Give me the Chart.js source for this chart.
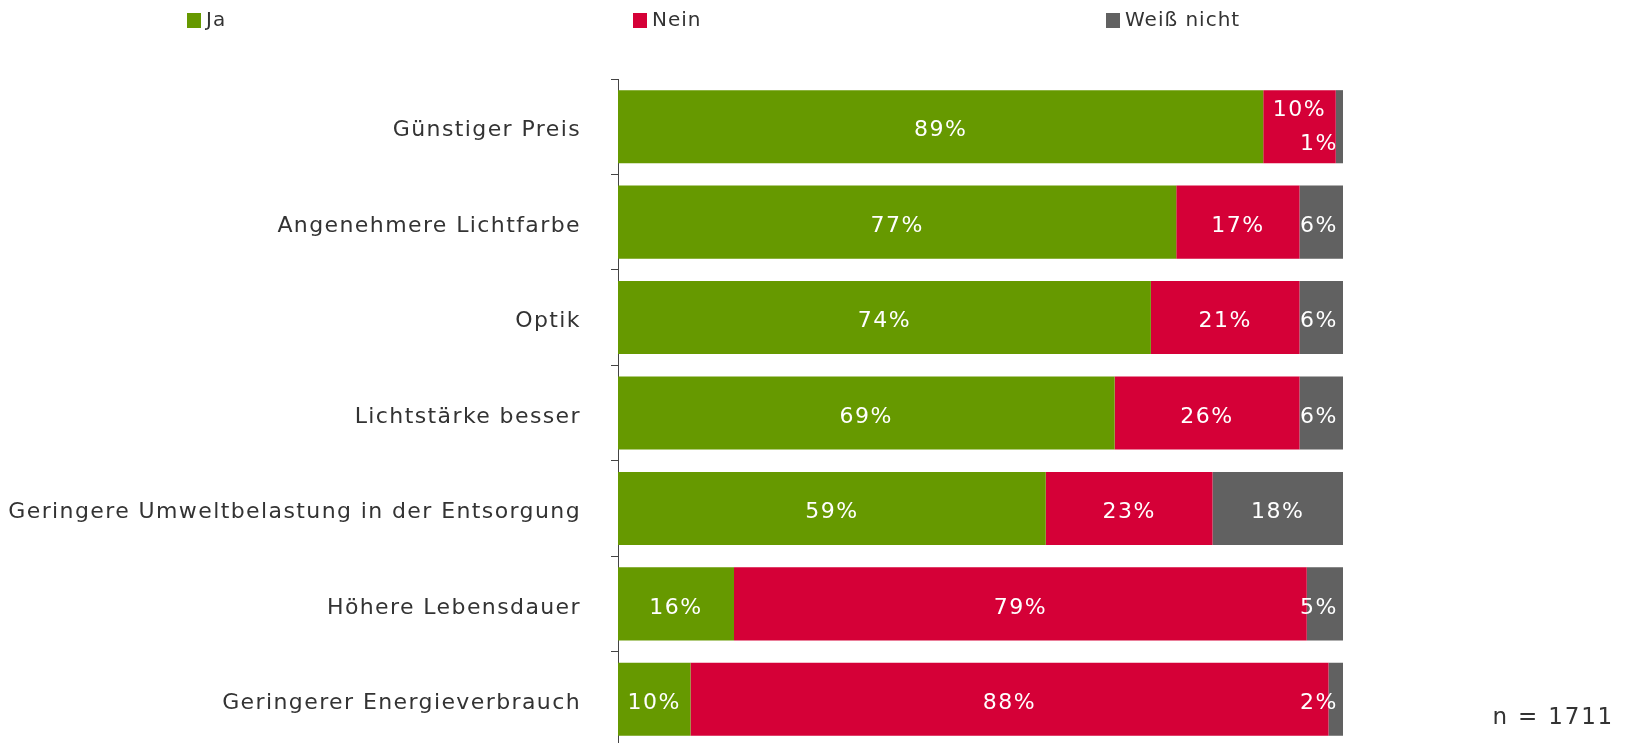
<!DOCTYPE html>
<html lang="de">
<head>
<meta charset="utf-8">
<title>Gründe</title>
<script src="https://cdn.jsdelivr.net/npm/chart.js@4.4.1/dist/chart.umd.min.js"></script>
<style>
  html, body { margin: 0; padding: 0; background: #fff; overflow: hidden; }
  body { width: 1628px; height: 743px; position: relative; font-family: "DejaVu Sans", Verdana, sans-serif; color: #333; }
  #chart { position: absolute; left: 0; top: 0; }
  .leg { position: absolute; top: 8px; font-size: 20px; letter-spacing: 1px; line-height: 22px; }
  .leg i { display: inline-block; width: 14px; height: 15px; margin-right: 5px; vertical-align: -2px; }
  #n { position: absolute; right: 14px; top: 703px; font-size: 23px; letter-spacing: 1.8px; }
</style>
</head>
<body>
<canvas id="chart" width="1628" height="747"></canvas>
<div class="leg" style="left:187px"><i style="background:#669900"></i>Ja</div>
<div class="leg" style="left:633px"><i style="background:#d50037"></i>Nein</div>
<div class="leg" style="left:1106px"><i style="background:#616161"></i>Weiß nicht</div>
<div id="n">n = 1711</div>
<script>
// ---- data (percent of answers) ----
const categories = [
  "Günstiger Preis",
  "Angenehmere Lichtfarbe",
  "Optik",
  "Lichtstärke besser",
  "Geringere Umweltbelastung in der Entsorgung",
  "Höhere Lebensdauer",
  "Geringerer Energieverbrauch",
];
const ja         = [89, 77, 73.5, 68.5, 59, 16, 10];
const nein       = [10, 17, 20.5, 25.5, 23, 79, 88];
const weissNicht = [1, 6, 6, 6, 18, 5, 2];

const colors = { ja: "#669900", nein: "#d50037", wn: "#616161" };

// manual nudges for crowded labels (dataset index, row) -> vertical shift in px
const labelNudge = { "1,0": -20, "2,0": 14 };

// Value labels inside the bar segments, kept inside the plot area.
const barLabels = {
  id: "barLabels",
  afterDatasetsDraw(chart) {
    const ctx = chart.ctx;
    const right = chart.chartArea.right;
    ctx.save();
    ctx.font = "22px 'DejaVu Sans'";
    ctx.letterSpacing = "1.5px";
    ctx.fillStyle = "#fff";
    ctx.textBaseline = "middle";
    ctx.textAlign = "center";
    chart.data.datasets.forEach((ds, di) => {
      chart.getDatasetMeta(di).data.forEach((bar, i) => {
        const txt = Math.round(ds.data[i]) + "%";
        const w = ctx.measureText(txt).width;
        let x = (bar.x + bar.base) / 2;
        if (x + w / 2 > right - 5) x = right - 5 - w / 2;
        const y = bar.y + 4 + (labelNudge[di + "," + i] || 0);
        ctx.fillText(txt, x, y);
      });
    });
    ctx.restore();
  },
};

const spacing = {
  id: "spacing",
  beforeDraw(chart) { chart.ctx.letterSpacing = "1.4px"; },
};

new Chart(document.getElementById("chart"), {
  type: "bar",
  data: {
    labels: categories,
    datasets: [
      { label: "Ja", data: ja, backgroundColor: colors.ja },
      { label: "Nein", data: nein, backgroundColor: colors.nein },
      { label: "Weiß nicht", data: weissNicht, backgroundColor: colors.wn },
    ],
  },
  options: {
    indexAxis: "y",
    animation: false,
    responsive: false,
    events: [],
    layout: { padding: { top: 79, right: 285, bottom: 0, left: 0 } },
    datasets: { bar: { barPercentage: 0.766, categoryPercentage: 1, borderWidth: 0 } },
    plugins: { legend: { display: false }, tooltip: { enabled: false } },
    scales: {
      x: { display: false, stacked: true, min: 0, max: 100 },
      y: {
        stacked: true,
        afterFit: s => { s.width = 618; s.paddingTop = 0; s.paddingBottom = 0; },
        border: { display: true, color: "#444", width: 1 },
        grid: { display: true, drawOnChartArea: false, drawTicks: true, tickLength: 7, color: "#444", offset: true },
        ticks: { color: "#333", padding: 30, labelOffset: 4, font: { family: "DejaVu Sans", size: 22 } },
      },
    },
  },
  plugins: [spacing, barLabels],
});
</script>
</body>
</html>
